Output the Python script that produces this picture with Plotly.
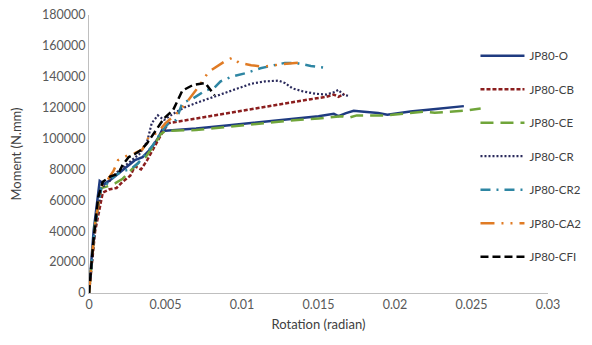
import plotly.graph_objects as go

# ---- data (rotation in radian, moment in N.mm) ----
o_x = [0, 0.0003, 0.0007, 0.001, 0.0015, 0.002, 0.0025, 0.003, 0.0035, 0.004, 0.0045, 0.0048, 0.005,
       0.007, 0.009, 0.011, 0.013, 0.015, 0.016, 0.0163, 0.0168, 0.0173, 0.0178, 0.0185, 0.0189,
       0.0195, 0.021, 0.0225, 0.0245]
o_y = [0, 40000, 72500, 70500, 74000, 78000, 82000, 86000, 88000, 93000, 100000, 106000, 105000,
       106500, 108500, 110500, 112500, 114500, 116000, 114500, 116500, 118000, 117500, 117000, 116500,
       115500, 117500, 119000, 121000]

cb_x = [0, 0.0004, 0.0009, 0.0013, 0.0018, 0.0022, 0.0027, 0.003, 0.0034, 0.0038, 0.0043, 0.0048,
        0.0052, 0.007, 0.009, 0.011, 0.013, 0.0145, 0.0155, 0.016, 0.0163, 0.0167]
cb_y = [0, 40000, 65000, 67000, 68000, 72000, 76000, 82000, 80000, 86000, 95000, 104000,
        110000, 113000, 116500, 120000, 123000, 125500, 127000, 128500, 127000, 129000]

ce_x = [0, 0.0004, 0.0008, 0.0012, 0.0017, 0.0022, 0.0027, 0.0032, 0.0037, 0.0042, 0.0047, 0.005,
        0.007, 0.009, 0.011, 0.013, 0.015, 0.0165, 0.017, 0.0175, 0.0185, 0.0195, 0.021, 0.0219,
        0.0226, 0.0245, 0.0256]
ce_y = [0, 45000, 68000, 69000, 71000, 74000, 79000, 84000, 88000, 95000, 103000, 105000,
        105500, 107500, 109500, 111500, 113000, 114500, 113500, 115000, 115000, 115000, 116500, 117400,
        116700, 118000, 119500]

cr_x = [0, 0.0004, 0.0008, 0.0013, 0.0018, 0.0023, 0.0028, 0.0033, 0.0038, 0.0041, 0.0045, 0.0049,
        0.0055, 0.0062, 0.007, 0.0084, 0.0095, 0.0106, 0.0115, 0.0124, 0.0128, 0.0133, 0.014,
        0.0148, 0.0155, 0.016, 0.0163, 0.0166, 0.017]
cr_y = [0, 42000, 68000, 72000, 78000, 82000, 86000, 90000, 98000, 110000, 115000, 112000,
        116000, 120000, 123000, 128000, 132000, 135500, 137000, 137500, 136000, 132500, 130500,
        129000, 128500, 130000, 131500, 128500, 127500]

cr2_x = [0, 0.0004, 0.0008, 0.0012, 0.0017, 0.0022, 0.0027, 0.0032, 0.0037, 0.0042, 0.0047, 0.0052,
         0.0057, 0.0061, 0.0068, 0.0076, 0.0082, 0.0086, 0.0093, 0.0103, 0.0112, 0.0128, 0.0135,
         0.0145, 0.0153]
cr2_y = [0, 44000, 68000, 71000, 76000, 79000, 80000, 84000, 90000, 96000, 104000, 110000,
         112000, 123000, 126000, 131000, 133000, 137000, 140000, 142500, 145500, 149000, 149000,
         147000, 146000]

ca2_x = [0, 0.0004, 0.0008, 0.0012, 0.0016, 0.0019, 0.0026, 0.003, 0.0035, 0.0039, 0.0045, 0.005,
         0.0056, 0.0061, 0.0065, 0.0072, 0.0078, 0.0088, 0.0094, 0.0098, 0.0106, 0.0114, 0.0125,
         0.0133, 0.014]
ca2_y = [0, 45000, 69000, 73000, 79000, 86000, 89500, 90500, 93000, 101000, 104000, 110000,
         115000, 120000, 125000, 134000, 143000, 149500, 152500, 149000, 147500, 146500, 148000,
         149000, 149500]

cfi_x = [0, 0.0003, 0.0006, 0.0009, 0.0014, 0.0019, 0.0022, 0.0026, 0.003, 0.0034, 0.0038, 0.0043,
         0.0049, 0.0055, 0.0061, 0.0068, 0.0076, 0.0082]
cfi_y = [0, 35000, 62000, 72000, 75500, 77000, 83000, 88000, 90000, 92500, 97000, 104000,
         113000, 118500, 131000, 134700, 136000, 128000]

names = ["JP80-O", "JP80-CB", "JP80-CE", "JP80-CR", "JP80-CR2", "JP80-CA2", "JP80-CFI"]
xs = [o_x, cb_x, ce_x, cr_x, cr2_x, ca2_x, cfi_x]
ys = [o_y, cb_y, ce_y, cr_y, cr2_y, ca2_y, cfi_y]
colors = ["#1F3B80", "#8B1E1E", "#70A53A", "#2A2A5C", "#2E86A3", "#E07B24", "#000000"]
dashes = ["solid", "4px,2px", "13px,7px", "2px,2px", "10px,6px,2px,6px",
          "14px,7px,2px,7px,2px,7px", "8px,4px"]
widths = [2.5, 2.5, 2.5, 2.2, 2.5, 2.5, 2.5]

fig = go.Figure()
for i, n in enumerate(names):
    fig.add_trace(go.Scatter(
        x=xs[i], y=ys[i], mode="lines", name=n, legendgroup=n,
        line=dict(color=colors[i], dash=dashes[i], width=widths[i])))

font_family = "Lato, 'Open Sans', sans-serif"
fig.update_layout(
    width=584, height=337,
    margin=dict(l=81, r=44, t=7, b=52, autoexpand=False),
    paper_bgcolor="white", plot_bgcolor="white",
    font=dict(family=font_family, size=12, color="#595959"),
    showlegend=True,
    legend=dict(x=0.842, y=0.906, xanchor="left", yanchor="top",
                font=dict(size=11.5, color="#404040"),
                tracegroupgap=14.5, itemwidth=44, bgcolor="rgba(0,0,0,0)"),
    xaxis=dict(range=[0, 0.03], tickvals=[0, 0.005, 0.01, 0.015, 0.02, 0.025, 0.03],
               ticktext=["0", "0.005", "0.01", "0.015", "0.02", "0.025", "0.03"],
               showgrid=False, zeroline=False, showline=True, linecolor="#BFBFBF",
               linewidth=1, ticks="", automargin=False, ticklabeloverflow="allow",
               tickfont=dict(size=12.5, color="#595959"),
               title=dict(text="Rotation (radian)", font=dict(size=13, color="#404040"),
                          standoff=8)),
    yaxis=dict(range=[0, 180000], tickvals=list(range(0, 180001, 20000)),
               ticktext=[str(v) for v in range(0, 180001, 20000)],
               showgrid=False, zeroline=False, showline=True, linecolor="#BFBFBF",
               linewidth=1, ticks="", automargin=False, ticklabeloverflow="allow",
               tickfont=dict(size=12.5, color="#595959"),
               title=dict(text="Moment (N.mm)", font=dict(size=13, color="#404040"),
                          standoff=20)),
)

fig.write_html("out.html")
